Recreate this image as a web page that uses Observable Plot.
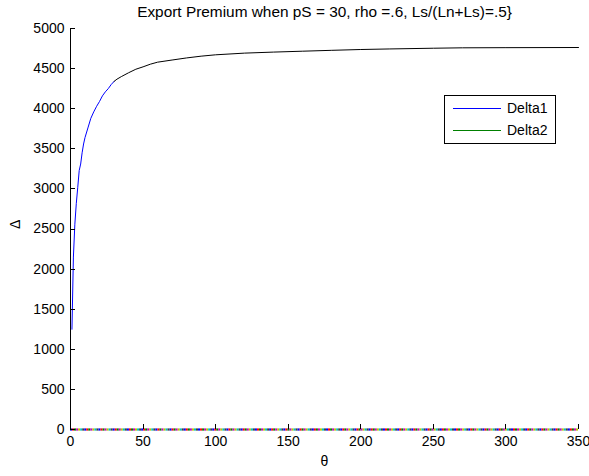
<!DOCTYPE html>
<html>
<head>
<meta charset="utf-8">
<script src="https://cdn.jsdelivr.net/npm/d3@7"></script>
<script src="https://cdn.jsdelivr.net/npm/@observablehq/plot@0.6"></script>
<style>
  html, body { margin: 0; padding: 0; background: #fff; }
  svg { font-family: "Liberation Sans", Arial, sans-serif; }
</style>
</head>
<body>
<div id="chart"></div>
<script>
const title = "Export Premium when pS = 30, rho =.6, Ls/(Ln+Ls)=.5}";
const xTicks = [0, 50, 100, 150, 200, 250, 300, 350];
const yTicks = [0, 500, 1000, 1500, 2000, 2500, 3000, 3500, 4000, 4500, 5000];

// Delta1 curve
const theta1 = [1, 2, 3, 4, 5, 6, 7, 8, 9, 10, 12, 14, 16, 18, 20, 22, 24, 26, 28, 30, 32, 35, 40, 45, 50, 55, 60, 70, 80, 90, 100, 120, 140, 160, 180, 200, 220, 250, 270, 300, 350];
const delta1 = [1250, 2150, 2560, 2820, 3020, 3230, 3310, 3450, 3560, 3640, 3760, 3880, 3960, 4030, 4090, 4160, 4210, 4250, 4300, 4340, 4368, 4400, 4448, 4492, 4522, 4555, 4580, 4607, 4633, 4655, 4672, 4693, 4706, 4717, 4728, 4738, 4745, 4754, 4759, 4761, 4763];
const blueUntil = 30;

// Delta2 series (all zero) drawn as many coloured pieces
const theta2Start = 0, theta2End = 350, theta2Step = 1.4;
const delta2Value = 0;
const pieceColors = ["#0000ff", "#ff0000", "#008000", "#bf00bf", "#bfbf00", "#00bfbf", "#404040"];

const legendItems = [{label: "Delta1", color: "#0000ff"}, {label: "Delta2", color: "#008000"}];

const curve = theta1.map((t, i) => ({t, v: delta1[i]}));
const bluePart = curve.filter(d => d.t <= blueUntil);
const blackPart = curve.filter(d => d.t >= blueUntil);

const pieces = d3.range(theta2Start, theta2End, theta2Step).map((t, i) => ({
  x1: t, x2: Math.min(t + theta2Step, theta2End), y: delta2Value, c: pieceColors[i % pieceColors.length]
}));

const W = 589, H = 476;
const chart = Plot.plot({
  width: W,
  height: H,
  marginLeft: 70,
  marginRight: 11,
  marginTop: 28,
  marginBottom: 47,
  style: {fontFamily: "Liberation Sans, Arial, sans-serif", fontSize: "14px", background: "#fff", color: "#000"},
  x: {type: "linear", domain: [0, 350], label: null},
  y: {type: "linear", domain: [0, 5000], label: null},
  marks: [
    Plot.axisX({ticks: xTicks, tickSize: 0, tickPadding: 7, label: null, fontSize: 14, tickFormat: d3.format("d")}),
    Plot.axisY({ticks: yTicks, tickSize: 0, tickPadding: 6, label: null, fontSize: 14, tickFormat: d3.format("d")}),
    Plot.line(bluePart, {x: "t", y: "v", stroke: "#0000ff", strokeWidth: 1}),
    Plot.line(blackPart, {x: "t", y: "v", stroke: "#000", strokeWidth: 1}),
    Plot.ruleX([0], {stroke: "black"}),
    Plot.ruleY(pieces, {x1: "x1", x2: "x2", y: "y", stroke: "c", strokeWidth: 2.2}),
    Plot.text([title], {frameAnchor: "top", dy: -22, fontSize: 15.4, text: d => d}),
    Plot.text(["θ"], {frameAnchor: "bottom", dy: 36, fontSize: 14, text: d => d}),
    Plot.text(["Δ"], {frameAnchor: "left", dx: -55, rotate: -90, fontSize: 14, text: d => d})
  ]
});
document.getElementById("chart").appendChild(chart);

// Inward MATLAB-style ticks
const svg = d3.select(chart);
const plotX = chart.scale("x"), plotY = chart.scale("y");
const tickLen = 5;
const tg = svg.append("g").attr("stroke", "black").attr("stroke-width", 1);
xTicks.forEach(t => {
  const x = Math.round(plotX.apply(t)) + 0.5;
  const y0 = plotY.apply(0);
  tg.append("line").attr("x1", x).attr("x2", x).attr("y1", y0).attr("y2", y0 - tickLen);
});
yTicks.forEach(t => {
  const y = Math.round(plotY.apply(t)) + 0.5;
  const x0 = plotX.apply(0);
  tg.append("line").attr("x1", x0).attr("x2", x0 + tickLen).attr("y1", y).attr("y2", y);
});

// Legend box
const lg = svg.append("g").attr("text-anchor", "start");
lg.append("rect").attr("x", 444.5).attr("y", 95.5).attr("width", 111).attr("height", 48)
  .attr("fill", "white").attr("stroke", "black").attr("stroke-width", 1);
legendItems.forEach((d, i) => {
  const y = 108.5 + i * 22;
  lg.append("line").attr("x1", 453).attr("x2", 501).attr("y1", y).attr("y2", y)
    .attr("stroke", d.color).attr("stroke-width", 1);
  lg.append("text").attr("x", 507).attr("y", y).attr("dy", "0.35em")
    .attr("font-size", 14).attr("fill", "black").attr("text-anchor", "start").text(d.label);
});
</script>
</body>
</html>
